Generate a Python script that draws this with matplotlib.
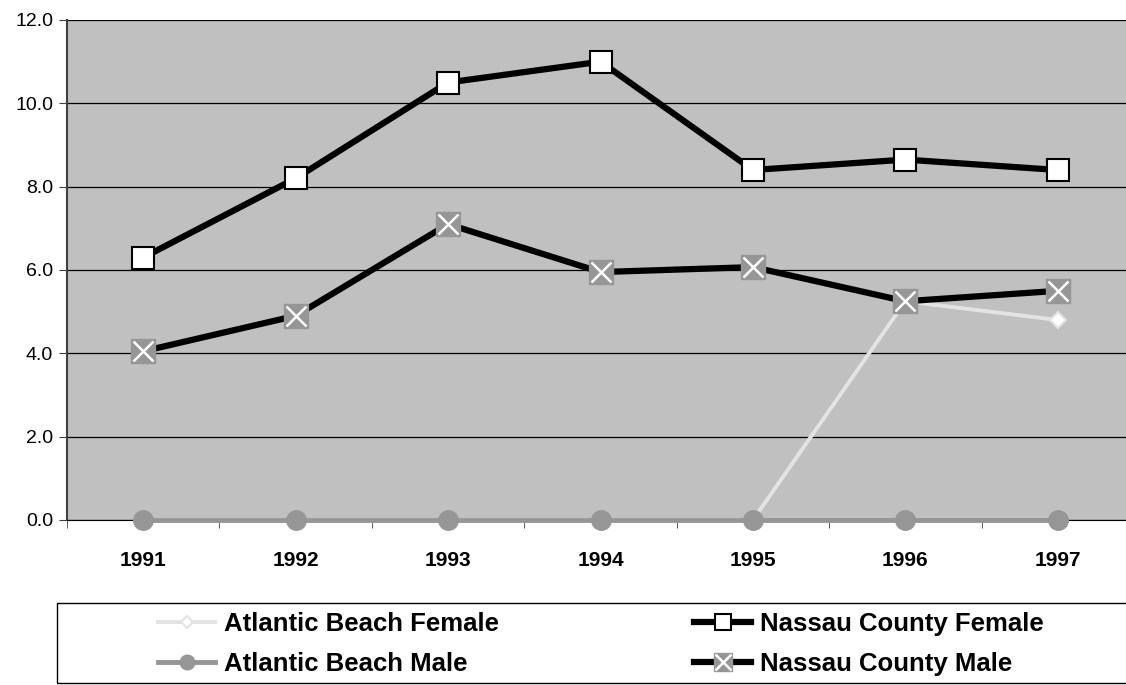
import numpy as np
import matplotlib.pyplot as plt
from matplotlib.patches import Rectangle

plt.rcParams['font.family'] = ['Liberation Sans', 'DejaVu Sans']

years = ['1991', '1992', '1993', '1994', '1995', '1996', '1997']
ab_female = [0.0, 0.0, 0.0, 0.0, 0.0, 5.25, 4.8]
ab_male = [0.0, 0.0, 0.0, 0.0, 0.0, 0.0, 0.0]
nc_female = [6.3, 8.2, 10.5, 11.0, 8.4, 8.65, 8.4]
nc_male = [4.05, 4.9, 7.1, 5.95, 6.07, 5.25, 5.5]

fig = plt.figure(figsize=(11.26, 6.85), dpi=100)
ax = fig.add_axes([67 / 1126, 1 - 520 / 685, 1067 / 1126, 500 / 685])
ax.set_facecolor('#C0C0C0')
x = np.arange(len(years))

l1, = ax.plot(x, ab_female, color='#E3E3E3', lw=2.8, marker='D', ms=8,
              mfc='white', mec='#E3E3E3', mew=1.5, clip_on=False, zorder=3)
l2, = ax.plot(x, ab_male, color='#969696', lw=3.5, marker='o', ms=14,
              mfc='#969696', mec='#969696', clip_on=False, zorder=4)
l3, = ax.plot(x, nc_female, color='black', lw=4.5, marker='s', ms=16,
              mfc='white', mec='black', mew=1.5, clip_on=False, zorder=5)
l4, = ax.plot(x, nc_male, color='black', lw=4.5, marker='s', ms=17,
              mfc='#969696', mec='#969696', clip_on=False, zorder=6)
l4x, = ax.plot(x, nc_male, ls='none', marker='x', ms=15, mec='white',
               mew=1.8, clip_on=False, zorder=7)

ax.set_xlim(-0.5, 6.5)
ax.set_ylim(0, 12)
ax.set_yticks(np.arange(0, 12.1, 2))
ax.set_yticklabels(['%.1f' % v for v in np.arange(0, 12.1, 2)], fontsize=14)
ax.yaxis.grid(True, color='black', lw=0.9)
ax.set_axisbelow(True)
ax.set_xticks(x)
ax.set_xticklabels(years, fontsize=15, fontweight='bold')
ax.set_xticks(np.arange(-0.5, 7, 1), minor=True)
ax.tick_params(axis='x', which='major', length=0, pad=22)
ax.tick_params(axis='x', which='minor', length=6, color='#404040')
ax.tick_params(axis='y', length=6, color='#404040', pad=4)
for s in ['top', 'right']:
    ax.spines[s].set_visible(False)
ax.spines['left'].set_color('#404040')
ax.spines['left'].set_linewidth(1.5)
ax.spines['bottom'].set_color('black')

# legend box
fig.patches.append(Rectangle((57 / 1126, 1 - 683 / 685), 1080 / 1126, 80 / 685,
                             transform=fig.transFigure, facecolor='white',
                             edgecolor='black', lw=1))

handles = [l1, l2, l3, (l4, l4x)]
labels = ['Atlantic Beach Female', 'Atlantic Beach Male',
          'Nassau County Female', 'Nassau County Male']
leg = fig.legend(handles, labels, loc='center', ncol=2,
                 bbox_to_anchor=(601 / 1126, 1 - 644 / 685),
                 prop={'size': 18.5, 'weight': 'bold'}, frameon=False,
                 handlelength=2.2, handletextpad=0.35, columnspacing=7.6,
                 labelspacing=0.6, borderpad=0, markerscale=0.75)

fig.savefig('out.png', dpi=100)
